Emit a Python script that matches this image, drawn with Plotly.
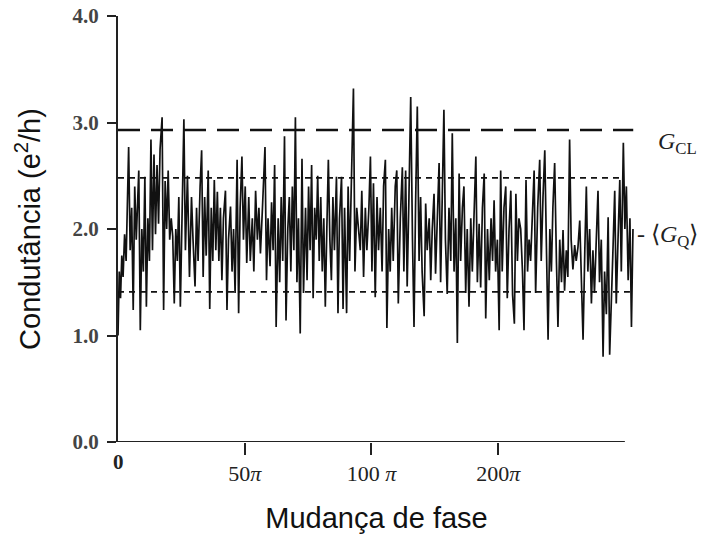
import plotly.graph_objects as go

# phase (axis units: 50 per labelled tick) and conductance (e^2/h)
phase = [0, 0.5, 1.0, 1.5, 2.0, 2.6, 3.2, 4.2, 4.8, 5.4, 6.0, 6.6, 7.2, 8.2, 8.8, 9.4, 10.0, 10.6, 11.2, 11.8,
         12.4, 13.0, 13.6, 14.2, 14.8, 15.4, 16.0, 16.6, 17.4, 18.0, 18.6, 19.2, 19.8, 20.4, 21.0, 21.6, 22.2, 22.8, 23.4, 24.0,
         24.6, 25.4, 26.0, 26.6, 27.4, 28.2, 29.0, 29.6, 30.4, 31.0, 31.6, 32.4, 33.0, 33.6, 34.2, 34.8, 35.6, 36.2, 36.8, 37.4,
         38.0, 38.6, 39.2, 39.8, 40.4, 41.0, 41.6, 42.4, 43.0, 43.6, 44.4, 45.0, 45.6, 46.2, 47.0, 47.6, 48.2, 48.9, 49.5, 50.2,
         50.8, 51.6, 52.2, 53.0, 53.6, 54.3, 55.0, 55.6, 56.2, 57.0, 58.0, 58.6, 59.2, 60.0, 60.6, 61.2, 61.8, 62.4, 63.2, 63.8,
         64.4, 65.0, 65.7, 66.3, 67.0, 67.6, 68.2, 68.8, 69.4, 70.0, 70.6, 71.2, 71.9, 72.6, 73.2, 74.0, 74.6, 75.2, 75.8, 76.4,
         77.0, 77.6, 78.2, 78.8, 79.4, 80.0, 80.6, 81.2, 81.8, 82.4, 83.0, 83.6, 84.2, 84.8, 85.4, 86.2, 86.8, 87.4, 88.2, 88.8,
         89.4, 90.2, 90.8, 91.4, 92.2, 92.9, 93.5, 94.2, 94.9, 95.6, 96.2, 96.9, 97.6, 98.2, 99.0, 99.6, 100.2, 100.8, 101.5, 102.2,
         102.8, 103.5, 104.2, 104.8, 105.5, 106.1, 106.8, 107.4, 108.0, 108.6, 109.4, 110.0, 110.6, 111.4, 112.2, 112.8, 113.5, 114.1, 114.8, 115.5,
         116.2, 116.8, 117.4, 118.1, 118.8, 119.4, 120.0, 120.8, 121.4, 122.0, 122.8, 123.4, 124.0, 124.7, 125.3, 126.0, 126.7, 127.3, 128.0, 128.6,
         129.2, 129.9, 130.6, 131.3, 131.9, 132.6, 133.3, 133.9, 134.6, 135.2, 135.9, 136.5, 137.2, 137.8, 138.5, 139.2, 139.8, 140.5, 141.2, 141.8,
         142.5, 143.1, 143.8, 144.5, 145.1, 145.8, 146.5, 147.2, 147.8, 148.4, 149.0, 149.7, 150.4, 151.0, 151.6, 152.3, 153.0, 153.6, 154.3, 155.0,
         155.7, 156.4, 157.0, 157.6, 158.2, 158.9, 159.6, 160.2, 161.0, 161.6, 162.2, 162.8, 163.6, 164.2, 164.8, 165.6, 166.4, 167.0, 167.7, 168.4,
         169.0, 169.7, 170.4, 171.0, 171.6, 172.3, 173.0, 173.6, 174.3, 175.0, 175.6, 176.2, 176.9, 177.5, 178.2, 178.8, 179.5, 180.2, 180.8, 181.5,
         182.2, 182.8, 183.5, 184.2, 184.8, 185.4, 186.1, 186.8, 187.4, 188.0, 188.7, 189.4, 190.0, 190.7, 191.4, 192.0, 192.7, 193.4, 194.0, 194.7,
         195.3, 196.0, 196.6, 197.3, 198.0, 198.6, 199.4, 200.0, 200.6, 201.3, 202.0, 202.6, 203.2]
conductance = [1.00, 1.60, 1.35, 1.75, 1.55, 1.95, 1.70, 2.77, 1.80, 2.20, 1.24, 2.40, 1.90, 2.55, 1.05, 2.00, 1.60, 2.49, 1.27, 2.10,
               1.70, 2.84, 1.80, 2.70, 1.95, 2.60, 2.05, 2.75, 3.05, 1.24, 2.45, 2.00, 2.55, 1.90, 2.10, 1.93, 1.30, 2.00, 1.70, 2.30,
               1.27, 2.20, 3.03, 1.80, 2.50, 1.55, 2.30, 1.90, 1.46, 2.20, 1.70, 2.40, 2.74, 1.55, 2.30, 1.75, 2.55, 1.25, 2.20, 1.70,
               2.46, 1.80, 2.35, 1.70, 2.20, 1.52, 2.10, 2.36, 1.24, 1.90, 2.21, 1.60, 2.00, 1.40, 2.65, 1.21, 2.20, 2.68, 1.90, 2.40,
               1.68, 2.30, 1.70, 2.10, 1.60, 2.36, 1.90, 2.20, 1.77, 2.20, 2.77, 1.52, 2.10, 1.65, 2.25, 1.80, 2.60, 1.08, 2.10, 1.50,
               2.30, 1.70, 2.87, 1.14, 2.00, 2.30, 1.60, 2.40, 1.80, 3.05, 1.50, 2.10, 1.02, 2.66, 1.40, 2.20, 1.52, 2.40, 1.80, 2.60,
               1.35, 2.20, 1.90, 2.50, 1.70, 2.30, 1.60, 2.10, 1.27, 2.00, 2.65, 1.90, 1.52, 2.30, 1.80, 2.49, 1.21, 2.10, 2.49, 1.25,
               2.20, 1.21, 2.40, 1.70, 2.50, 3.32, 1.60, 2.20, 2.00, 1.80, 2.36, 1.55, 2.20, 1.80, 2.20, 2.68, 1.60, 2.43, 1.36, 2.30,
               1.80, 2.20, 1.60, 2.40, 2.65, 1.07, 2.00, 1.60, 2.20, 1.70, 2.40, 2.55, 1.30, 2.10, 2.58, 1.60, 2.55, 1.46, 2.30, 3.24,
               1.90, 1.08, 2.20, 3.15, 1.70, 2.30, 1.60, 1.18, 2.24, 1.80, 2.10, 1.52, 2.00, 2.33, 1.58, 2.10, 2.62, 1.50, 2.30, 3.12,
               1.90, 1.39, 2.20, 1.70, 2.90, 1.60, 2.10, 0.93, 2.52, 1.70, 2.20, 2.40, 1.40, 2.00, 1.27, 2.10, 1.60, 2.20, 2.68, 1.50,
               2.05, 1.45, 2.20, 2.52, 1.16, 2.00, 1.52, 2.10, 1.70, 2.27, 1.60, 1.90, 1.05, 2.55, 1.60, 2.20, 2.40, 1.35, 2.00, 2.36,
               1.38, 1.11, 2.33, 1.70, 2.10, 2.00, 1.60, 1.05, 2.46, 1.60, 1.90, 1.70, 2.20, 2.55, 1.40, 2.20, 2.65, 1.70, 2.30, 2.74,
               1.90, 0.96, 2.00, 1.60, 2.20, 2.62, 1.70, 1.08, 1.90, 1.50, 1.99, 1.42, 1.80, 1.55, 2.84, 1.90, 1.62, 1.85, 1.70, 1.83,
               2.08, 1.50, 0.96, 1.80, 2.40, 1.60, 2.00, 1.30, 1.80, 1.40, 2.00, 2.36, 1.50, 1.90, 0.80, 1.60, 1.20, 2.11, 0.82, 1.50,
               1.80, 2.36, 1.30, 1.90, 2.46, 1.60, 2.81, 2.00, 2.40, 1.52, 2.10, 1.08, 2.00]

# reference levels
G_CL = 2.93
upper_band = 2.48
lower_band = 1.41
G_Q_mean = 1.93

y_ticks = [0, 1, 2, 3, 4]
y_tick_text = ["0.0", "1.0", "2.0", "3.0", "4.0"]
x_ticks = [50, 100, 150]
x_tick_text = ["50<i>π</i>", "100 <i>π</i>", "200<i>π</i>"]

serif = "Liberation Serif"
sans = "Liberation Sans"

fig = go.Figure()
fig.add_trace(go.Scatter(x=phase, y=conductance, mode="lines",
                         line=dict(color="#111111", width=1.7), showlegend=False, hoverinfo="skip"))

# horizontal reference lines
fig.add_shape(type="line", xref="x", yref="y", x0=0, x1=203.3, y0=G_CL, y1=G_CL,
              line=dict(color="#111111", width=2.4, dash="22px,11px"))
fig.add_shape(type="line", xref="x", yref="y", x0=0, x1=198, y0=upper_band, y1=upper_band,
              line=dict(color="#111111", width=1.7, dash="6px,5px"))
fig.add_shape(type="line", xref="x", yref="y", x0=0, x1=202, y0=lower_band, y1=lower_band,
              line=dict(color="#111111", width=1.7, dash="6px,5px"))
# bottom axis line (ends before the trace)
fig.add_shape(type="line", xref="x", yref="y", x0=0, x1=200, y0=0, y1=0,
              line=dict(color="#222222", width=2.2))

fig.add_annotation(x=1.0, xref="paper", y=G_CL, yref="y", xanchor="left", yanchor="middle",
                   text="<i>G</i><sub>CL</sub>", showarrow=False, xshift=21, yshift=-13,
                   font=dict(family=serif, size=24, color="#222222"))
fig.add_annotation(x=1.0, xref="paper", y=G_Q_mean, yref="y", xanchor="left", yanchor="middle",
                   text="- ⟨<i>G</i><sub>Q</sub>⟩", showarrow=False, xshift=0,
                   font=dict(family=serif, size=24, color="#222222"))
fig.add_annotation(x=0, xref="x", y=0, yref="y", xanchor="center", yanchor="top",
                   text="<b>0</b>", showarrow=False, yshift=-6,
                   font=dict(family=serif, size=21, color="#222222"))

fig.update_layout(
    width=710, height=534,
    margin=dict(l=118, r=75, t=16, b=92),
    paper_bgcolor="white", plot_bgcolor="white",
    xaxis=dict(range=[0, 204], showgrid=False, zeroline=False, showline=False, automargin=False,
               tickmode="array", tickvals=x_ticks, ticktext=x_tick_text,
               ticks="outside", ticklen=12, tickwidth=1.6, tickcolor="#222222",
               tickfont=dict(family=serif, size=22, color="#222222"),
               title=dict(text="Mudança de fase", font=dict(family=sans, size=29, color="#111111"), standoff=24)),
    yaxis=dict(range=[0, 4], showgrid=False, zeroline=False, showline=True, linecolor="#222222", linewidth=2.2,
               automargin=False,
               tickmode="array", tickvals=y_ticks, ticktext=["<b>%s</b>" % t for t in y_tick_text],
               ticks="outside", ticklen=9, tickwidth=1.6, tickcolor="#222222", ticklabelstandoff=4,
               tickfont=dict(family=serif, size=21, color="#444444"),
               title=dict(text="Condutância (e<sup>2</sup>/h)", font=dict(family=sans, size=29, color="#111111"), standoff=23)),
)

fig.write_html("out.html")
